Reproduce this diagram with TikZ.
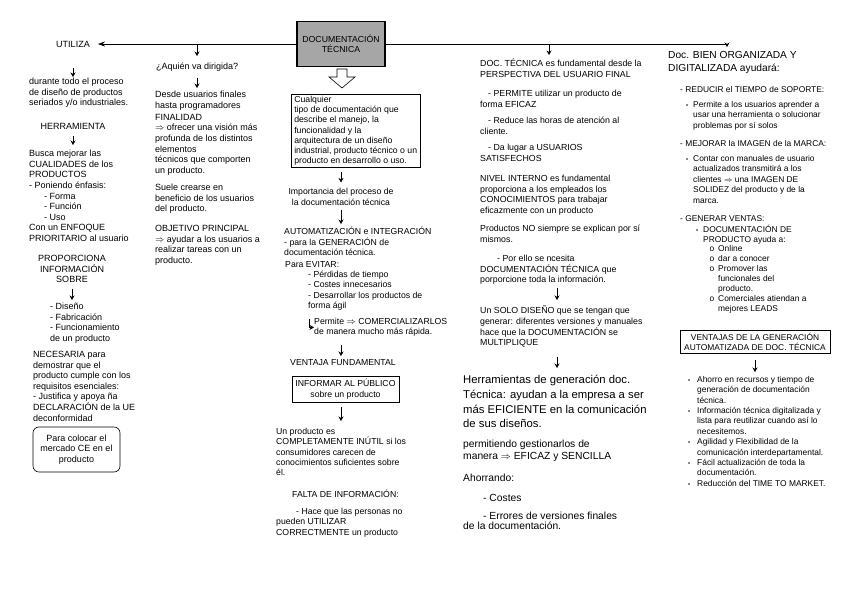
\documentclass[tikz,border=0pt]{standalone}
\usepackage{fontspec}
\setmainfont{Liberation Sans}
\usetikzlibrary{arrows.meta}
\definecolor{docgray}{RGB}{166,166,166}
\newcommand{\itembul}[1]{\llap{\fontsize{6}{6}\selectfont\textbullet\hspace*{#1}}}
\newcommand{\itemcirc}{\llap{o\hspace*{4pt}}}

\begin{document}
\begin{tikzpicture}[x=1pt,y=-1pt,
    txt/.style={anchor=north west,inner sep=0pt,align=left},
    fa/.style={font=\fontsize{9}{10.6}\selectfont},
    fb/.style={font=\fontsize{8.7}{10.3}\selectfont},
    fd/.style={font=\fontsize{8.8}{10.6}\selectfont},
    fc/.style={font=\fontsize{8.4}{10.5}\selectfont},
    fbig/.style={font=\fontsize{11.3}{14.8}\selectfont},
    fmid/.style={font=\fontsize{10.3}{11.5}\selectfont},
    ftit/.style={font=\fontsize{10.2}{13}\selectfont},
    arr/.style={-{Stealth[length=4.5pt,width=5pt]},line width=0.6pt},
    ]
\fill[white] (0,0) rectangle (848,601);
\useasboundingbox (0,0) rectangle (848,601);

% centre box
\node[draw,line width=1.2pt,fill=docgray,minimum width=88pt,minimum height=45pt,align=center,fb] (doc) at (341,44) {DOCUMENTACIÓN\\TÉCNICA};
\coordinate (ja) at (197,44);
\coordinate (jd) at (549,44);
\coordinate (jr) at (727,44);
\coordinate (jc) at (341,0);
\coordinate (jf) at (557,0);

% column 1
\node[fa,inner sep=0pt] (utiliza) at (73,44) {UTILIZA};
\node[txt,fa] (durante) at (29,78) {durante todo el proceso\\de diseño de productos\\seriados y/o industriales.};
\node[fa,inner sep=0pt] (herr) at (73,126) {HERRAMIENTA};
\node[txt,fa] (busca) at (29,150) {Busca mejorar las\\CUALIDADES de los\\PRODUCTOS\\- Poniendo énfasis:\\\hspace*{15pt}- Forma\\\hspace*{15pt}- Función\\\hspace*{15pt}- Uso\\Con un ENFOQUE\\PRIORITARIO al usuario};
\node[fa,inner sep=0pt,align=center] (propor) at (72,269) {PROPORCIONA\\INFORMACIÓN\\SOBRE};
\node[txt,fa] (diseno) at (50,303) {- Diseño\\- Fabricación\\- Funcionamiento\\de un producto};
\node[txt,fa] (necesaria) at (33,351) {NECESARIA para\\demostrar que el\\producto cumple con los\\requisitos esenciales:\\- Justifica y apoya ña\\DECLARACIÓN de la UE\\deconformidad};
\node[draw,rounded corners=6pt,fa,align=center,minimum width=87pt,minimum height=45pt,line width=0.6pt] (ce) at (76.5,449.5) {Para colocar el\\mercado CE en el\\producto};

% column 2
\node[txt,fa] (quien) at (156,63) {¿Aquién va dirigida?};
\node[txt,fa] (desde) at (155,91) {Desde usuarios finales\\hasta programadores};
\node[txt,fa] (finalidad) at (155,114) {FINALIDAD\\$\Rightarrow$ ofrecer una visión más\\profunda de los distintos\\elementos\\técnicos que comporten\\un producto.};
\node[txt,fa] (suele) at (155,184) {Suele crearse en\\beneficio de los usuarios\\del producto.};
\node[txt,fa] (objetivo) at (155,225) {OBJETIVO PRINCIPAL\\$\Rightarrow$ ayudar a los usuarios a\\realizar tareas con un\\producto.};

% column 3
\node[draw,txt,inner xsep=3pt,inner ysep=1.5pt,fb,line width=0.6pt] (cualq) at (291,94) {Cualquier\\tipo de documentación que\\describe el manejo, la\\funcionalidad y la\\arquitectura de un diseño\\industrial, producto técnico o un\\producto en desarrollo o uso.};
\draw[fill=white,line width=0.6pt] (337,69) -- (347,69) -- (347,77) -- (355,77) -- (342,88) -- (329,77) -- (337,77) -- cycle;
\node[fb,inner sep=0pt,align=center] (import) at (341,197) {Importancia del proceso de\\la documentación técnica};
\node[txt,fb] (auto) at (284,227) {AUTOMATIZACIÓN e INTEGRACIÓN\\- para la GENERACIÓN de\\documentación técnica.};
\node[txt,fb] (evitar) at (285,261) {Para EVITAR:};
\node[txt,fb] (lista) at (308,271) {- Pérdidas de tiempo\\- Costes innecesarios\\- Desarrollar los productos de\\forma ágil};
\node[txt,fb] (permite3) at (314,318) {Permite $\Rightarrow$ COMERCIALIZARLOS\\de manera mucho más rápida.};
\node[txt,fb] (ventaja) at (290,359) {VENTAJA FUNDAMENTAL};
\node[draw,fb,align=center,minimum width=107pt,minimum height=26pt,line width=0.6pt] (informar) at (345.5,389) {INFORMAR AL PÚBLICO\\sobre un producto};
\node[txt,fb] (unprod) at (276,428) {Un producto es\\COMPLETAMENTE INÚTIL si los\\consumidores carecen de\\conocimientos suficientes sobre\\él.};
\node[txt,fb] (falta) at (292,490) {FALTA DE INFORMACIÓN:};
\node[txt,fb] (hace) at (276,508) {\hspace*{20pt}- Hace que las personas no\\pueden UTILIZAR\\CORRECTMENTE un producto};

% column 4
\node[txt,fd] (doctec) at (480,59) {DOC. TÉCNICA es fundamental desde la\\PERSPECTIVA DEL USUARIO FINAL};
\node[txt,fd] (permite) at (480,90) {\hspace*{8pt}- PERMITE utilizar un producto de\\forma EFICAZ};
\node[txt,fd] (reduce) at (480,117) {\hspace*{8pt}- Reduce las horas de atención al\\cliente.};
\node[txt,fd] (dalugar) at (480,144) {\hspace*{8pt}- Da lugar a USUARIOS\\SATISFECHOS};
\node[txt,fd] (nivel) at (480,175) {NIVEL INTERNO es fundamental\\proporciona a los empleados los\\CONOCIMIENTOS para trabajar\\eficazmente con un producto};
\node[txt,fd] (productos) at (480,225) {Productos NO siempre se explican por sí\\mismos.};
\node[txt,fd] (porello) at (480,255) {\hspace*{17pt}- Por ello se ncesita\\DOCUMENTACIÓN TÉCNICA que\\porporcione toda la información.};
\node[txt,fd] (solo) at (480,306) {Un SOLO DISEÑO que se tengan que\\generar: diferentes versiones y manuales\\hace que la DOCUMENTACIÓN se\\MULTIPLIQUE};
\node[txt,fbig] (herram) at (463,375) {Herramientas de generación doc.\\Técnica: ayudan a la empresa a ser\\más EFICIENTE en la comunicación\\de sus diseños.};
\node[txt,fmid] (permitiendo) at (463,440) {permitiendo gestionarlos de\\manera $\Rightarrow$ EFICAZ y SENCILLA};
\node[txt,fmid] (ahorrando) at (463,474) {Ahorrando:};
\node[txt,fmid] (costes) at (483,494) {- Costes};
\node[txt,fmid,font=\fontsize{10.3}{10.3}\selectfont] (errores) at (463,512) {\hspace*{20pt}- Errores de versiones finales\\de la documentación.};

% column 5
\node[txt,ftit] (docbien) at (668,51) {Doc. BIEN ORGANIZADA Y\\DIGITALIZADA ayudará:};
\node[txt,fc] (reducir) at (680,86) {- REDUCIR el TIEMPO de SOPORTE:};
\node[txt,fc] (permite5) at (693,101) {\itembul{5pt}Permite a los usuarios aprender a\\usar una herramienta o solucionar\\problemas por sí solos};
\node[txt,fc] (mejorar) at (680,140) {- MEJORAR la IMAGEN de la MARCA:};
\node[txt,fc] (contar) at (693,155) {\itembul{5pt}Contar con manuales de usuario\\actualizados transmitirá a los\\clientes $\Rightarrow$ una IMAGEN DE\\SOLIDEZ del producto y de la\\marca.};
\node[txt,fc] (generar) at (680,215) {- GENERAR VENTAS:};
\node[txt,fc,font=\fontsize{8.4}{10}\selectfont] (docprod) at (703,225) {\itembul{5pt}DOCUMENTACIÓN DE\\PRODUCTO ayuda a:};
\node[txt,fc,font=\fontsize{8.4}{10}\selectfont] (online) at (718,245) {\itemcirc Online\\\itemcirc dar a conocer\\\itemcirc Promover las\\funcionales del\\producto.\\\itemcirc Comerciales atiendan a\\mejores LEADS};
\node[draw,fc,align=center,inner sep=1pt,minimum width=150pt,minimum height=23pt,line width=0.6pt,font=\fontsize{8.4}{10.2}\selectfont] (ventajas) at (755,341.5) {VENTAJAS DE LA GENERACIÓN\\AUTOMATIZADA DE DOC. TÉCNICA};
\node[txt,fc,font=\fontsize{8.4}{10.4}\selectfont] (ventlist) at (697,376) {\itembul{7pt}Ahorro en recursos y tiempo de\\generación de documentación\\técnica.\\\itembul{7pt}Información técnica digitalizada y\\lista para reutilizar cuando así lo\\necesitemos.\\\itembul{7pt}Agilidad y Flexibilidad de la\\comunicación interdepartamental.\\\itembul{7pt}Fácil actualización de toda la\\documentación.\\\itembul{7pt}Reducción del TIME TO MARKET.};

% main line
\draw[-{Stealth[length=7pt,width=5pt]},line width=0.7pt,shorten >=8pt] (doc.west) -- (utiliza.east);
\draw[arr,line width=0.7pt,shorten >=4pt] (doc.east) -| (docbien.north -| jr);
\draw[arr,shorten >=7pt] (ja) -- (quien.north -| ja);
\draw[arr,shorten >=4pt] (jd) -- (doctec.north -| jd);

% arrows
\draw[arr,shorten <=21pt,shorten >=1pt] (utiliza.south) -- (utiliza.south |- durante.north);
\draw[arr,shorten <=7pt,shorten >=5pt] (herr.south) -- (herr.south |- busca.north);
\draw[arr,shorten <=6pt,shorten >=3pt] (propor.south) -- (propor.south |- diseno.north);
\draw[arr,shorten <=6pt,shorten >=3pt] (quien.south -| ja) -- (desde.north -| ja);
\draw[arr,shorten <=4pt,shorten >=6pt] (cualq.south -| jc) -- (import.north -| jc);
\draw[arr,shorten <=4pt,shorten >=3pt] (import.south -| jc) -- (auto.north -| jc);
\draw[arr,shorten <=8pt] ([xshift=1pt]lista.south west) |- (permite3.west);
\draw[arr,shorten <=8pt,shorten >=3pt] (permite3.south -| jc) -- (ventaja.north -| jc);
\draw[arr,shorten <=5pt,shorten >=7pt] (informar.south -| jc) -- (unprod.north -| jc);
\draw[arr,shorten <=3pt,shorten >=6pt] (porello.south -| jf) -- (solo.north -| jf);
\draw[arr,shorten <=9pt,shorten >=7pt] (solo.south -| jf) -- (herram.north -| jf);
\draw[arr,shorten <=7pt,shorten >=4pt] (ventajas.south) -- (ventajas.south |- ventlist.north);
\end{tikzpicture}
\end{document}
